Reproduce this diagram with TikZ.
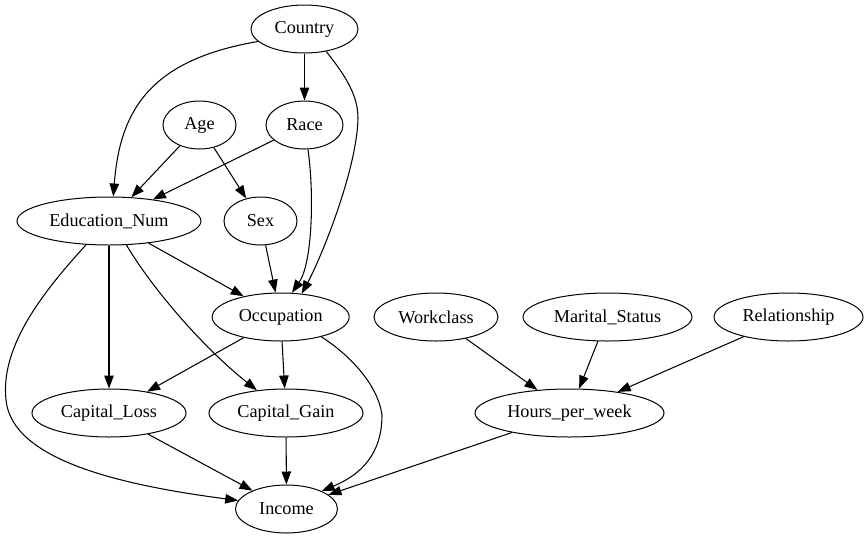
\documentclass[tikz,border=0pt]{standalone}
\usepackage{fontspec}
\setmainfont{Liberation Serif}
\usetikzlibrary{shapes.geometric,arrows.meta}
\begin{document}
\begin{tikzpicture}[x=1pt,y=-1pt,
  var/.style={draw,ellipse,line width=1pt,minimum height=48pt,inner sep=0pt,
    font=\fontsize{18.2}{20}\selectfont},
  edge/.style={draw,line width=1.05pt,-{Triangle[length=13pt,width=9.5pt]}}]
\useasboundingbox (0,0) rectangle (868,539);

% variables, one row per rank
\node[var,minimum width=107pt] (country) at (304.5,29) {Country};
\node[var,minimum width=73pt]  (age)     at (199.5,125) {Age};
\node[var,minimum width=77pt]  (race)    at (304.5,125) {Race};
\node[var,minimum width=184pt] (edu)     at (109,221) {Education\_Num};
\node[var,minimum width=73pt]  (sex)     at (260.5,221) {Sex};
\node[var,minimum width=137pt] (occ)     at (280.7,317) {Occupation};
\node[var,minimum width=124pt] (work)    at (436,317) {Workclass};
\node[var,minimum width=169pt] (marital) at (607.5,317) {Marital\_Status};
\node[var,minimum width=149pt] (rel)     at (788.5,317) {Relationship};
\node[var,minimum width=154pt] (loss)    at (109,413) {Capital\_Loss};
\node[var,minimum width=154pt] (gain)    at (286,413) {Capital\_Gain};
\node[var,minimum width=189pt] (hours)   at (569.5,413) {Hours\_per\_week};
\node[var,minimum width=102pt] (income)  at (286.5,509) {Income};

% straight dependencies
\draw[edge] (country) -- (race);
\draw[edge] (age) -- (edu);
\draw[edge] (age) -- (sex);
\draw[edge] (race) -- (edu);
\draw[edge] (sex) -- (occ);
\draw[edge] (edu) -- (occ);
\draw[edge] (edu) -- (loss);
\draw[edge] (occ) -- (loss);
\draw[edge] (occ) -- (gain);
\draw[edge] (loss) -- (income);
\draw[edge] (gain) -- (income);
\draw[edge] (work) -- (hours);
\draw[edge] (marital) -- (hours);
\draw[edge] (rel) -- (hours);
\draw[edge] (hours) -- (income);

% routed dependencies
\draw[edge] (country.195) .. controls (150,60) and (120,110) .. (edu.80);
\draw[edge] (country.-46) .. controls (345,75) and (358,95) .. (358,118)
  .. controls (357,170) and (321,258) .. (occ.48);
\draw[edge] (race.-82) .. controls (314,190) and (313,262) .. (occ.65);
\draw[edge] (edu.-54) .. controls (150,285) and (200,345) .. (gain.142);
\draw[edge] (edu.226) .. controls (45,290) and (0,345) .. (6,400)
  .. controls (12,460) and (120,485) .. (income.170);
\draw[edge] (occ.-26) .. controls (350,355) and (378,385) .. (382,415)
  .. controls (382,455) and (360,475) .. (income.27);
\end{tikzpicture}
\end{document}
